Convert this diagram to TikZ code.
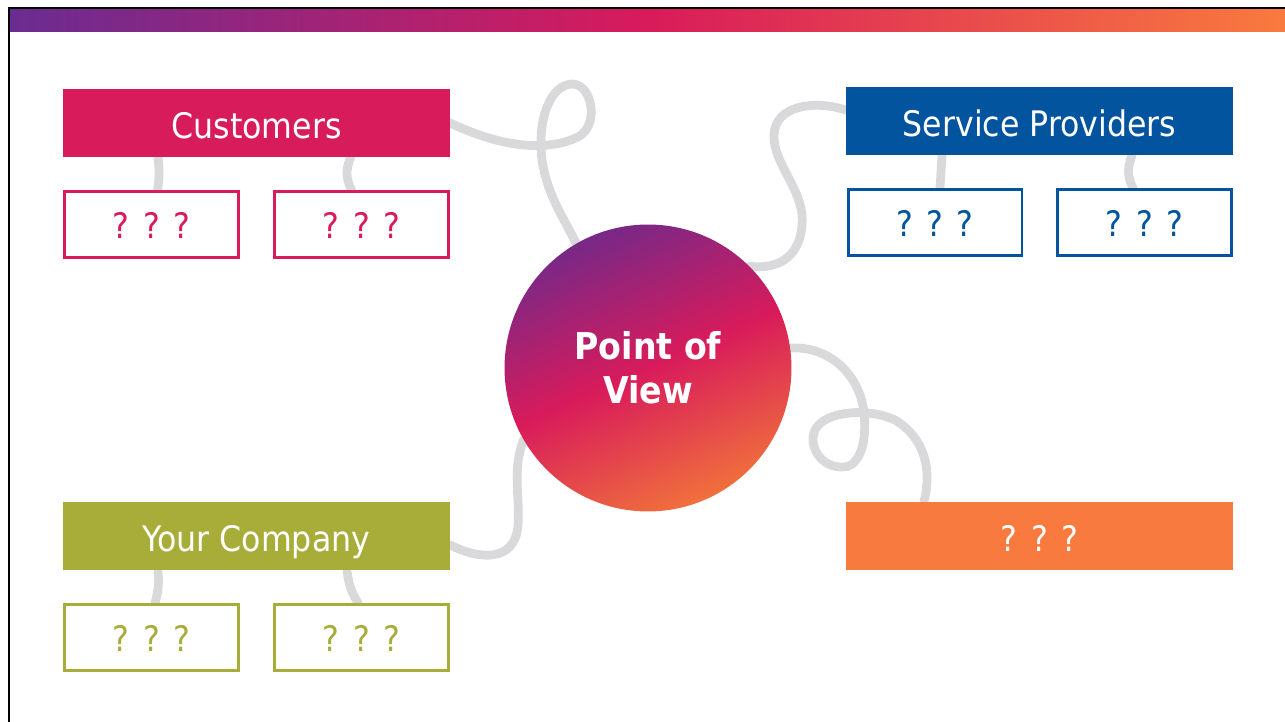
\documentclass[tikz,border=0pt]{standalone}
\usepackage{fontspec}
\setmainfont{DejaVu Sans Condensed}[BoldFont={DejaVu Sans Condensed Bold}]
\usetikzlibrary{backgrounds}

\definecolor{povred}{RGB}{216,27,91}
\definecolor{povblue}{RGB}{2,84,158}
\definecolor{povolive}{RGB}{168,173,58}
\definecolor{povorange}{RGB}{249,122,62}
\definecolor{povpurple}{RGB}{106,44,145}
\definecolor{povtop}{RGB}{120,40,135}
\definecolor{povbottom}{RGB}{240,112,60}
\definecolor{wiregray}{RGB}{217,217,219}

\tikzset{
  head/.style={minimum width=7.74cm, minimum height=1.38cm, inner sep=0pt,
    text height=18pt, text depth=0.6pt,
    text=white, font=\fontsize{20}{24}\selectfont},
  sub/.style={draw, line width=1.7pt, fill=white, minimum width=3.48cm,
    minimum height=1.32cm, inner sep=0pt, text height=16.5pt, text depth=0.5pt,
    font=\fontsize{20}{24}\selectfont},
  wire/.style={draw=wiregray, line width=5pt, line cap=round}
}

\begin{document}
\begin{tikzpicture}[x=0.02cm, y=-0.02cm]
  \useasboundingbox (0,0) rectangle (1285,722);
  % frame and top bar
  \fill[left color=povpurple, right color=povorange, middle color=povred] (10,9.5) rectangle (1285,32);
  \draw[line width=1.4pt] (9,722) -- (9,8) -- (1285,8);

  % main boxes
  \node[head, fill=povred] (cust) at (256.5,123) {Customers};
  \node[head, fill=povblue] (prov) at (1039.5,121) {Service Providers};
  \node[head, fill=povolive] (comp) at (256.5,536) {Your Company};
  \node[head, fill=povorange] (other) at (1039.5,536) {? ? ?};

  % sub boxes
  \node[sub, draw=povred, text=povred] (cust1) at (151.5,224.5) {? ? ?};
  \node[sub, draw=povred, text=povred] (cust2) at (361.5,224.5) {? ? ?};
  \node[sub, draw=povblue, text=povblue] (prov1) at (935,222.5) {? ? ?};
  \node[sub, draw=povblue, text=povblue] (prov2) at (1144.5,222.5) {? ? ?};
  \node[sub, draw=povolive, text=povolive] (comp1) at (151.5,637.5) {? ? ?};
  \node[sub, draw=povolive, text=povolive] (comp2) at (361.5,637.5) {? ? ?};

  % centre
  \node[circle, minimum size=5.74cm, inner sep=0pt,
    top color=povtop, bottom color=povbottom, middle color=povred, shading angle=24,
    text=white, align=center, font=\fontsize{21}{25}\selectfont\bfseries]
    (pov) at (648,368) {Point of\\View};

  % grey wires behind everything
  \begin{scope}[on background layer]
    \draw[wire] (cust.east) .. controls (490,142) and (540,155) .. (578,137)
      .. controls (600,125) and (592,85) .. (573,84)
      .. controls (550,84) and (537,120) .. (542,160)
      .. controls (547,195) and (565,220) .. (pov.120);
    \draw[wire] ([yshift=0.22cm]prov.west) .. controls (815,100) and (775,105) .. (774,135)
      .. controls (773,165) and (805,190) .. (802,225)
      .. controls (800,255) and (780,270) .. (pov.45);
    \draw[wire] (pov.8) .. controls (830,346) and (860,375) .. (864,413)
      .. controls (868,450) and (855,468) .. (843,467)
      .. controls (820,468) and (808,445) .. (815,430)
      .. controls (825,410) and (870,408) .. (895,420)
      .. controls (925,438) and (932,470) .. ([xshift=-2.31cm]other.north);
    \draw[wire] ([yshift=-0.18cm]comp.east) .. controls (475,558) and (515,565) .. (518,525)
      .. controls (520,495) and (512,470) .. (pov.210);
    % stubs down to the small boxes
    \draw[wire] ([xshift=0.12cm]cust1.north) to[bend right=8] ([xshift=0.13cm]cust1.north |- cust.south);
    \draw[wire] ([xshift=-0.2cm]cust2.north) to[bend left=25] ([xshift=-0.22cm]cust2.north |- cust.south);
    \draw[wire] ([xshift=0.1cm]prov1.north) -- ([xshift=0.14cm]prov1.north |- prov.south);
    \draw[wire] ([xshift=-0.23cm]prov2.north) to[bend left=25] ([xshift=-0.25cm]prov2.north |- prov.south);
    \draw[wire] ([xshift=0.07cm]comp1.north) to[bend right=10] ([xshift=0.13cm]comp1.north |- comp.south);
    \draw[wire] ([xshift=-0.07cm]comp2.north) to[bend left=12] ([xshift=-0.29cm]comp2.north |- comp.south);
  \end{scope}
\end{tikzpicture}
\end{document}
